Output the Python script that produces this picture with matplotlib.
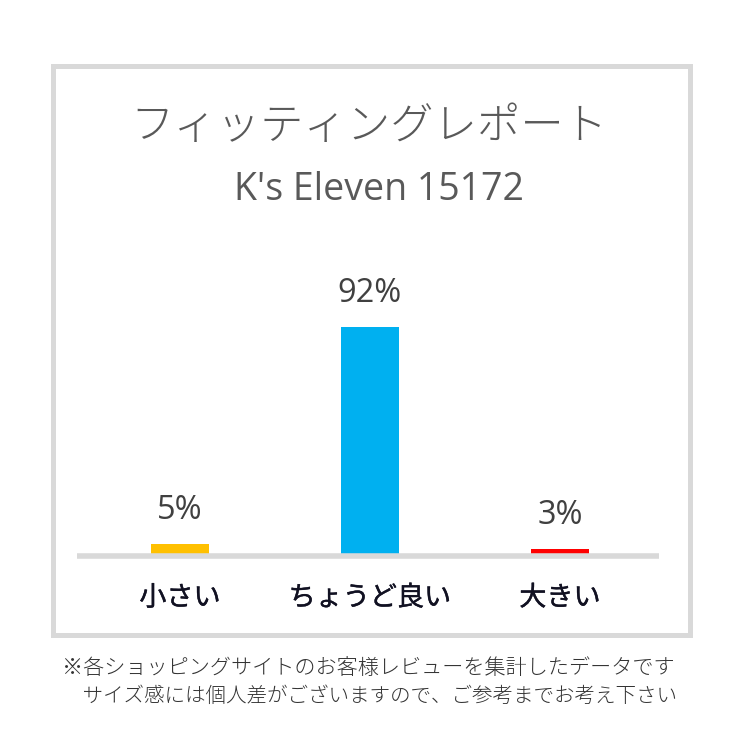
import matplotlib
matplotlib.use("Agg")
import matplotlib.pyplot as plt
import matplotlib.patheffects as pe
from matplotlib.patches import Rectangle

categories = ["小さい", "ちょうど良い", "大きい"]
values = [5, 92, 3]
value_labels = ["5%", "92%", "3%"]
bar_colors = ["#FFC000", "#00B0F0", "#FF0000"]
title = "フィッティングレポート"
subtitle = "K's Eleven 15172"
notes = ["※各ショッピングサイトのお客様レビューを集計したデータです",
         "\u3000サイズ感には個人差がございますので、ご参考までお考え下さい"]

W = H = 740
fig = plt.figure(figsize=(7.4, 7.4), dpi=100)
fig.patch.set_facecolor("white")

def fx(px):
    return px / W

def fy(py):
    return 1 - py / H

jp = ["Noto Sans CJK JP", "DejaVu Sans"]

# Border box
fig.patches.append(Rectangle((fx(52.5), fy(634.5)), fx(690) - fx(52.5), fy(65.5) - fy(634.5),
                             transform=fig.transFigure, fill=False,
                             edgecolor="#d9d9d9", linewidth=3.6))

# Axes: x from 77 to 659 px, baseline at 556 px
ax_left, ax_right = 77, 659
ax_bottom, ax_top = 556, 257
ax = fig.add_axes([fx(ax_left), fy(ax_bottom), fx(ax_right) - fx(ax_left), fy(ax_top) - fy(ax_bottom)])
ax.set_xlim(-0.542, 2.521)
ax.set_ylim(0, 120)
x = list(range(len(categories)))
bars = ax.bar(x, values, width=0.31, color=bar_colors, zorder=2)
ax.axhline(0, color="#d9d9d9", linewidth=4.0, zorder=3, clip_on=False, solid_capstyle="butt")
for s in ax.spines.values():
    s.set_visible(False)
ax.set_xticks([])
ax.set_yticks([])
ax.patch.set_alpha(0)

for xi, v, lab in zip(x, values, value_labels):
    ax.annotate(lab, (xi, v), xytext=(0, 17.5), textcoords="offset points",
                ha="center", va="baseline", fontsize=23.5, color="#404040",
                family="Open Sans", annotation_clip=False)

# Category labels
for xi, cat in zip(x, categories):
    px = ax.transData.transform((xi, 0))[0]
    fig.text(px / fig.dpi / 7.4, fy(598), cat, ha="center", va="center",
             fontsize=19.5, color="#111122", family=jp, fontweight="normal",
             path_effects=[pe.withStroke(linewidth=0.3, foreground="#111122")])

# Titles
fig.text(fx(369), fy(126), title, ha="center", va="center", fontsize=31.2,
         color="#595959", family=jp, fontweight="light")
fig.text(fx(379), fy(190), subtitle, ha="center", va="center", fontsize=27,
         color="#595959", family="Open Sans")

# Footnotes
fig.text(fx(62), fy(668), notes[0], ha="left", va="center", fontsize=15.2,
         color="#333333", family=jp, fontweight="light")
fig.text(fx(62), fy(696), notes[1], ha="left", va="center", fontsize=14.8,
         color="#333333", family=jp, fontweight="light")

fig.savefig("out.png", dpi=100, facecolor="white")
